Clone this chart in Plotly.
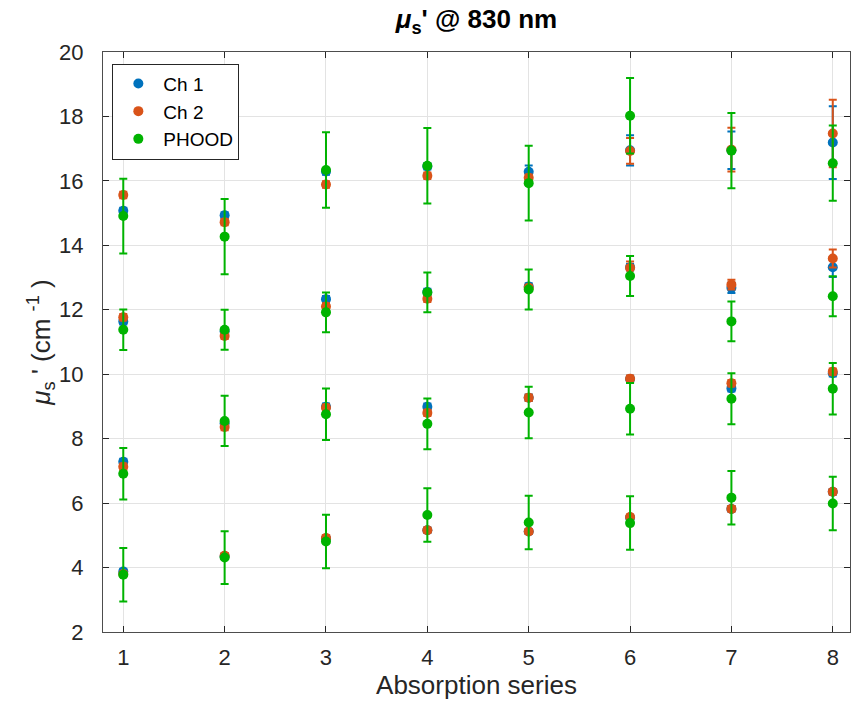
import plotly.graph_objects as go

series_x = [1, 2, 3, 4, 5, 6, 7, 8]

# Four scattering levels (rows) per absorption series, flattened per channel
ch1_vals = [15.07, 14.93, 16.29, 16.45, 16.28, 16.95, 16.95, 17.19,
            11.64, 11.33, 12.33, 12.55, 12.72, 13.32, 12.68, 13.32,
            7.28, 8.48, 8.99, 8.99, 9.27, 9.85, 9.56, 10.03,
            3.88, 4.35, 4.90, 5.16, 5.12, 5.55, 5.82, 6.35]
ch1_err = [0.10, 0.10, 0.10, 0.10, 0.20, 0.47, 0.58, 1.13,
           0.10, 0.10, 0.10, 0.10, 0.10, 0.10, 0.16, 0.30,
           0.10, 0.10, 0.10, 0.10, 0.10, 0.10, 0.10, 0.10,
           0.08, 0.08, 0.08, 0.08, 0.08, 0.08, 0.08, 0.08]
ch2_vals = [15.56, 14.72, 15.89, 16.16, 16.10, 16.93, 16.97, 17.47,
            11.77, 11.19, 12.10, 12.34, 12.68, 13.30, 12.78, 13.59,
            7.13, 8.36, 8.96, 8.80, 9.27, 9.86, 9.72, 10.08,
            3.80, 4.37, 4.92, 5.16, 5.12, 5.57, 5.82, 6.35]
ch2_err = [0.10, 0.10, 0.10, 0.10, 0.10, 0.40, 0.68, 1.05,
           0.10, 0.10, 0.10, 0.10, 0.10, 0.20, 0.15, 0.28,
           0.10, 0.10, 0.10, 0.10, 0.10, 0.10, 0.10, 0.10,
           0.08, 0.08, 0.08, 0.08, 0.08, 0.08, 0.08, 0.08]
phood_vals = [14.91, 14.27, 16.34, 16.47, 15.93, 18.02, 16.94, 16.55,
              11.38, 11.38, 11.92, 12.54, 12.63, 13.05, 11.64, 12.42,
              6.91, 8.55, 8.76, 8.46, 8.81, 8.93, 9.24, 9.55,
              3.78, 4.31, 4.81, 5.63, 5.40, 5.38, 6.17, 5.99]
phood_err = [1.16, 1.17, 1.17, 1.17, 1.16, 1.17, 1.17, 1.17,
             0.63, 0.62, 0.62, 0.62, 0.62, 0.62, 0.62, 0.62,
             0.80, 0.78, 0.80, 0.79, 0.80, 0.80, 0.79, 0.80,
             0.83, 0.82, 0.83, 0.83, 0.83, 0.83, 0.83, 0.83]

x_ticks = [1, 2, 3, 4, 5, 6, 7, 8]
y_ticks = [2, 4, 6, 8, 10, 12, 14, 16, 18, 20]

xs = series_x * 4

fig = go.Figure()
for name, vals, errs, col in [("Ch 1", ch1_vals, ch1_err, "#0072BD"),
                              ("Ch 2", ch2_vals, ch2_err, "#D95319"),
                              ("PHOOD", phood_vals, phood_err, "#00B300")]:
    fig.add_trace(go.Scatter(
        x=xs, y=vals, mode="markers", name=name,
        marker=dict(color=col, size=10, line=dict(width=0)),
        error_y=dict(type="data", array=errs, visible=True, color=col,
                     thickness=2, width=4),
    ))

axis_common = dict(showline=True, linecolor="#4d4d4d", linewidth=1, mirror="ticks",
                   ticks="inside", ticklen=6, tickcolor="#262626",
                   showgrid=True, gridcolor="#e3e3e3", gridwidth=1,
                   zeroline=False, tickfont=dict(family="Liberation Sans", size=22, color="#262626"))

fig.update_layout(
    width=851, height=706,
    margin=dict(l=103, r=1, t=52, b=74),
    paper_bgcolor="white", plot_bgcolor="white",
    font=dict(family="Liberation Sans", color="#262626"),
    title=dict(text="<b><i>μ</i><sub>s</sub>' @ 830 nm</b>", x=0.5, xref="paper",
               y=0.973, yref="container", yanchor="middle",
               font=dict(family="Liberation Sans", size=26, color="black")),
    xaxis=dict(range=[0.8, 8.17], tickvals=x_ticks, ticklabelstandoff=6,
               title=dict(text="Absorption series", font=dict(size=26), standoff=4),
               **axis_common),
    yaxis=dict(range=[2, 20], tickvals=y_ticks, ticklabelstandoff=14,
               title=dict(text="<i>μ</i><sub>s</sub> ' (cm <sup>-1</sup> )", font=dict(size=26), standoff=0),
               **axis_common),
    legend=dict(x=0.0125, y=0.98, xanchor="left", yanchor="top",
                bgcolor="white", bordercolor="#262626", borderwidth=1,
                font=dict(family="Liberation Sans", size=19, color="black"),
                tracegroupgap=0, itemwidth=40),
    showlegend=True,
)

fig.write_html("out.html")
